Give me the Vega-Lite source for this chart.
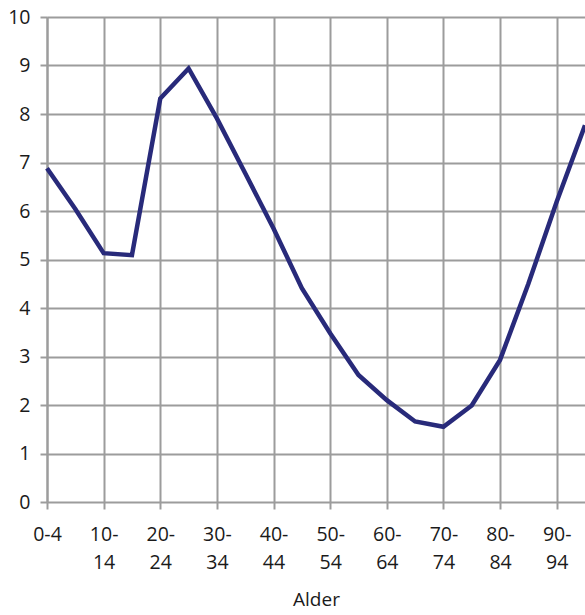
{
  "$schema": "https://vega.github.io/schema/vega-lite/v6.json",
  "width": 538,
  "height": 485,
  "autosize": {"type": "none"},
  "padding": {"left": 47, "top": 17, "right": 0, "bottom": 113},
  "background": "white",
  "config": {
    "view": {"stroke": null},
    "axis": {
      "labelFont": "Open Sans",
      "labelFontSize": 19.5,
      "labelColor": "#1a1a1a",
      "titleFont": "Open Sans",
      "titleFontSize": 19,
      "titleFontWeight": "normal",
      "titleColor": "#1a1a1a",
      "gridColor": "#9c9c9c",
      "gridWidth": 2,
      "gridOpacity": 1,
      "tickColor": "#9c9c9c",
      "tickWidth": 2,
      "tickSize": 7,
      "domainColor": "#9c9c9c",
      "domainWidth": 2
    }
  },
  "data": {
    "values": [
      {"alder": "0-4", "verdi": 6.88},
      {"alder": "5-9", "verdi": 6.04},
      {"alder": "10-14", "verdi": 5.13},
      {"alder": "15-19", "verdi": 5.09},
      {"alder": "20-24", "verdi": 8.32},
      {"alder": "25-29", "verdi": 8.94},
      {"alder": "30-34", "verdi": 7.91},
      {"alder": "35-39", "verdi": 6.78},
      {"alder": "40-44", "verdi": 5.64},
      {"alder": "45-49", "verdi": 4.41},
      {"alder": "50-54", "verdi": 3.48},
      {"alder": "55-59", "verdi": 2.62},
      {"alder": "60-64", "verdi": 2.1},
      {"alder": "65-69", "verdi": 1.66},
      {"alder": "70-74", "verdi": 1.55},
      {"alder": "75-79", "verdi": 1.99},
      {"alder": "80-84", "verdi": 2.93},
      {"alder": "85-89", "verdi": 4.5},
      {"alder": "90-94", "verdi": 6.19},
      {"alder": "95+", "verdi": 7.77}
    ]
  },
  "mark": {"type": "line", "color": "#282a7a", "strokeWidth": 4.5, "strokeJoin": "miter"},
  "encoding": {
    "x": {
      "field": "alder",
      "type": "ordinal",
      "sort": null,
      "scale": {"padding": 0},
      "title": "Alder",
      "axis": {
        "values": ["0-4", "10-14", "20-24", "30-34", "40-44", "50-54", "60-64", "70-74", "80-84", "90-94"],
        "grid": true,
        "labelAngle": 0,
        "labelPadding": 16,
        "labelLineHeight": 28,
        "labelExpr": "datum.value == '0-4' ? '0-4' : [slice(datum.value, 0, 3), slice(datum.value, 3)]",
        "domain": false,
        "titleY": 88,
        "titleBaseline": "top"
      }
    },
    "y": {
      "field": "verdi",
      "type": "quantitative",
      "title": null,
      "scale": {"domain": [0, 10]},
      "axis": {"values": [0, 1, 2, 3, 4, 5, 6, 7, 8, 9, 10], "labelPadding": 10}
    }
  }
}
